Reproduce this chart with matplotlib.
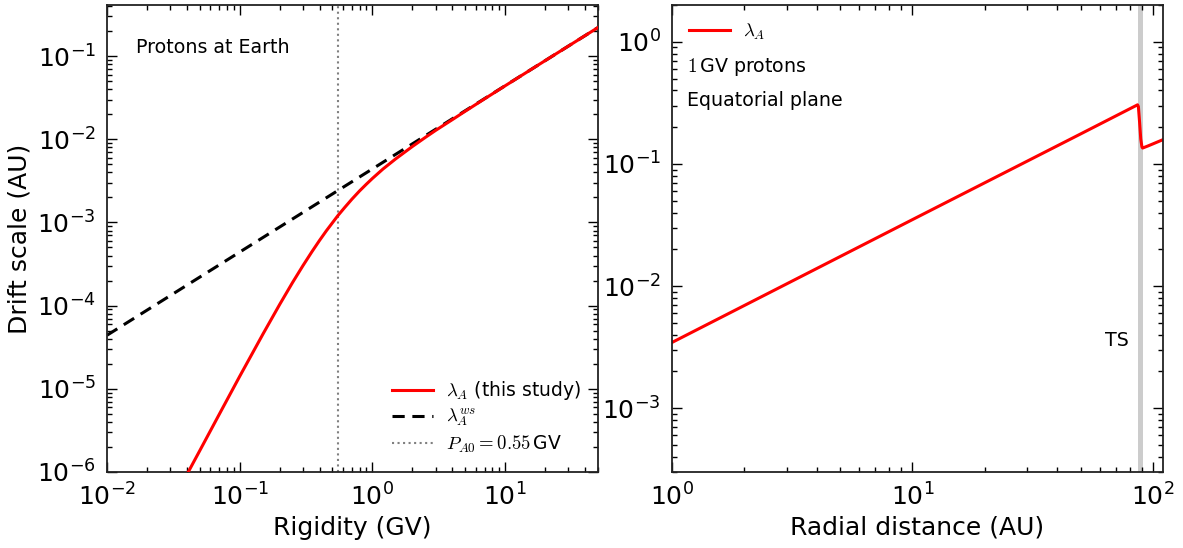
import math

import matplotlib
matplotlib.use("Agg")
import matplotlib.pyplot as plt
from matplotlib.ticker import FuncFormatter, LogLocator

plt.rcParams["mathtext.fontset"] = "cm"
plt.rcParams["font.family"] = "DejaVu Sans"

# Left panel: drift scale vs rigidity at Earth
rigidity = [0.04, 0.05, 0.07, 0.1, 0.15, 0.2, 0.25, 0.3, 0.35, 0.4, 0.45,
            0.55, 0.62, 0.7, 0.8, 0.9, 1.0, 1.2, 1.5, 2.0, 2.5, 3.0, 4.0,
            5.0, 7.0, 10.0, 20.0, 50.0]
lam_a = [9.3e-7, 1.8e-6, 4.9e-6, 1.41e-5, 4.57e-5, 1.03e-4, 1.89e-4, 3.03e-4,
         4.44e-4, 6.09e-4, 7.94e-4, 1.21e-3, 1.52e-3, 1.90e-3, 2.39e-3,
         2.88e-3, 3.38e-3, 4.38e-3, 5.82e-3, 8.18e-3, 1.05e-2, 1.28e-2,
         1.72e-2, 2.17e-2, 3.06e-2, 4.39e-2, 8.8e-2, 0.22]
rigidity_ws = [0.01, 50.0]
lam_ws = [4.4e-5, 0.22]
p_a0 = 0.55

# Right panel: drift scale vs radial distance, 1 GV protons
radius = [1.0, 10.0, 50.0, 86.3, 87.0, 88.0, 89.0, 90.0, 90.6, 95.0, 100.0, 110.0]
lam_r = [3.45e-3, 3.5e-2, 0.176, 0.305, 0.295, 0.22, 0.16, 0.138, 0.135, 0.14,
         0.146, 0.158]
ts_band = (86.3, 91.0)


def pow10(val, pos):
    exp = int(round(math.log10(val)))
    return r"$\mathregular{10^{%d}}$" % exp


def style_axis(ax):
    ax.set_xscale("log")
    ax.set_yscale("log")
    ax.tick_params(which="both", direction="in", top=True, right=True,
                   labelsize=18, pad=8)
    ax.tick_params(which="major", length=7, width=1)
    ax.tick_params(which="minor", length=3.5, width=1)
    ax.xaxis.set_major_locator(LogLocator(base=10))
    ax.yaxis.set_major_locator(LogLocator(base=10))
    ax.xaxis.set_major_formatter(FuncFormatter(pow10))
    ax.yaxis.set_major_formatter(FuncFormatter(pow10))
    for sp in ax.spines.values():
        sp.set_linewidth(1.3)
        sp.set_color("#222222")


fig = plt.figure(figsize=(11.83, 5.48), dpi=100)
ax1 = fig.add_axes([0.0904, 0.1387, 0.415, 0.852])
ax2 = fig.add_axes([0.568, 0.1387, 0.415, 0.852])

# left
ax1.plot(rigidity, lam_a, color="red", lw=2.2, zorder=3,
         label=r"$\lambda_A$ (this study)")
ax1.plot(rigidity_ws, lam_ws, color="black", lw=2.2, ls="--",
         dashes=(4, 2.5), zorder=2, label=r"$\lambda_A^{ws}$")
ax1.axvline(p_a0, color="gray", lw=1.5, ls=":", label=r"$P_{A0}=0.55\,$GV")
style_axis(ax1)
ax1.set_xlim(1e-2, 50)
ax1.set_ylim(1e-6, 0.41)
ax1.set_xlabel("Rigidity (GV)", fontsize=18)
ax1.set_ylabel("Drift scale (AU)", fontsize=18)
ax1.text(0.06, 0.91, "Protons at Earth", transform=ax1.transAxes,
         fontsize=13.7, va="center")
ax1.legend(loc="lower right", frameon=False, fontsize=13.5,
           handlelength=2.2, handletextpad=0.7, borderaxespad=0.5,
           labelspacing=0.25)

# right
ax2.axvspan(*ts_band, color="#cccccc", lw=0)
ax2.plot(radius, lam_r, color="red", lw=2.2, label=r"$\lambda_A$")
style_axis(ax2)
ax2.set_xlim(1, 110)
ax2.set_ylim(3e-4, 2.0)
ax2.set_xlabel("Radial distance (AU)", fontsize=18)
ax2.text(0.931, 0.282, "TS", transform=ax2.transAxes, fontsize=13.7,
         va="center", ha="right")
ax2.text(0.03, 0.868, r"$1\,$GV protons", transform=ax2.transAxes,
         fontsize=13.7, va="center")
ax2.text(0.03, 0.796, "Equatorial plane", transform=ax2.transAxes,
         fontsize=13.7, va="center")
ax2.legend(loc="upper left", frameon=False, fontsize=13.5,
           handlelength=2.2, handletextpad=0.7, borderaxespad=0.5)

fig.savefig("out.png", dpi=100)
